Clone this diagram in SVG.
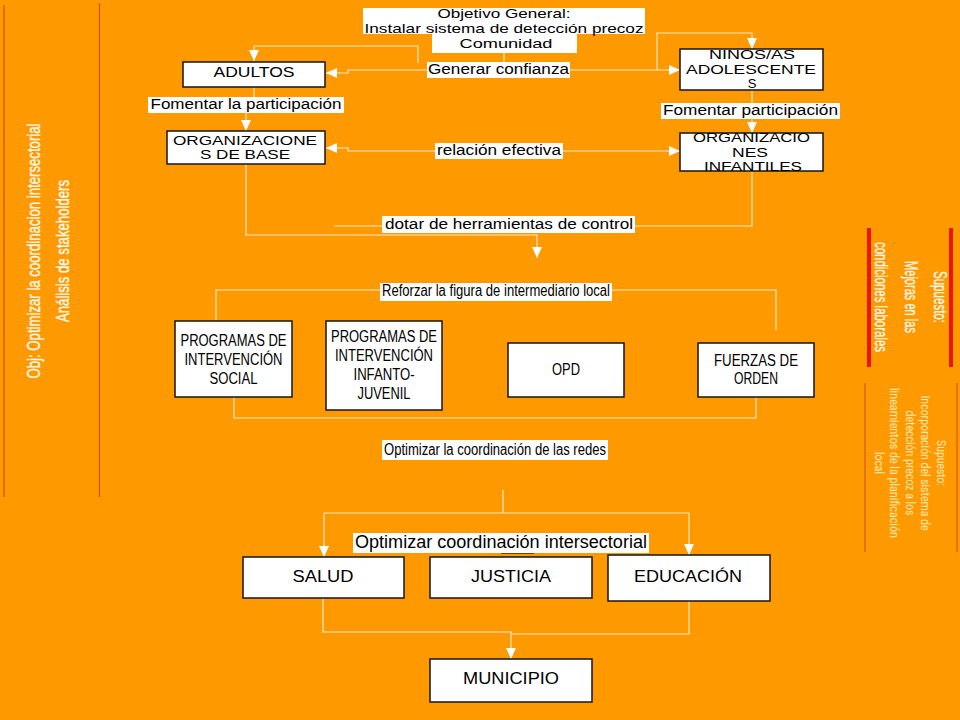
<svg xmlns="http://www.w3.org/2000/svg" width="960" height="720" viewBox="0 0 960 720">
<defs>
<marker id="arr" markerUnits="userSpaceOnUse" markerWidth="11" markerHeight="10" viewBox="0 0 11 10" refX="11" refY="5" orient="auto"><path d="M0,0 L11,5 L0,10 z" fill="#ffffff"/></marker>
<style>
.box{fill:#ffffff;stroke:#151515;stroke-width:1.5}
.lbl{fill:#ffffff}
.t{font-family:"Liberation Sans",Arial,sans-serif;fill:#000;text-anchor:middle;font-size:14px}
.m{font-size:13px}
.b{font-size:16px}
.n{font-size:16px}
.c{fill:none;stroke:#FFE8C8;stroke-width:1.2}
.ca{fill:none;stroke:#FFE8C8;stroke-width:1.2;marker-end:url(#arr)}
.side{font-family:"Liberation Sans",Arial,sans-serif;fill:#FFFAF0;stroke:#FFFAF0;stroke-width:0.35;text-anchor:middle;font-size:19px}
.side1{font-family:"Liberation Sans",Arial,sans-serif;fill:#FFFAF0;stroke:#FFFAF0;stroke-width:0.3;text-anchor:middle;font-size:18px}
.side2{font-family:Roboto,"Liberation Sans",Arial,sans-serif;fill:#FFEAB4;text-anchor:middle;font-size:13.5px}
</style>
</defs>
<rect x="0" y="0" width="960" height="720" fill="#FF9900"/>

<g id="side-left">
<line x1="4" y1="5" x2="4" y2="497" stroke="#D9481A" stroke-width="1.2"/>
<line x1="99.5" y1="3" x2="99.5" y2="497" stroke="#D9481A" stroke-width="1.2"/>
<text class="side" transform="translate(40,251) rotate(-90)" textLength="255" lengthAdjust="spacingAndGlyphs">Obj: Optimizar la coordinacion intersectorial</text>
<text class="side" transform="translate(69,251) rotate(-90)" textLength="142" lengthAdjust="spacingAndGlyphs">Análisis de stakeholders</text>
</g>

<g id="side-right-1">
<line x1="869" y1="228" x2="869" y2="367" stroke="#EE1500" stroke-width="4"/>
<line x1="951" y1="228" x2="951" y2="367" stroke="#EE1500" stroke-width="4"/>
<text class="side1" transform="translate(934,297) rotate(90)" textLength="52" lengthAdjust="spacingAndGlyphs">Supuesto:</text>
<text class="side1" transform="translate(905,297) rotate(90)" textLength="72" lengthAdjust="spacingAndGlyphs">Mejoras en las</text>
<text class="side1" transform="translate(875,297) rotate(90)" textLength="110" lengthAdjust="spacingAndGlyphs">condiciones laborales</text>
</g>

<g id="side-right-2">
<line x1="865" y1="383" x2="865" y2="552" stroke="#E0661E" stroke-width="1.5"/>
<line x1="957" y1="383" x2="957" y2="552" stroke="#E0661E" stroke-width="1.5"/>
<text class="side2" transform="translate(936.5,463) rotate(90)" textLength="46" lengthAdjust="spacingAndGlyphs">Supuesto:</text>
<text class="side2" transform="translate(921,463) rotate(90)" textLength="135" lengthAdjust="spacingAndGlyphs">Incorporación del sistema de</text>
<text class="side2" transform="translate(905.5,463) rotate(90)" textLength="105" lengthAdjust="spacingAndGlyphs">detección precoz a los</text>
<text class="side2" transform="translate(890,463) rotate(90)" textLength="150" lengthAdjust="spacingAndGlyphs">lineamientos de la planificación</text>
<text class="side2" transform="translate(874.5,463) rotate(90)" textLength="22" lengthAdjust="spacingAndGlyphs">local</text>
</g>

<g id="connectors">
<path class="c" d="M504,53 V63"/>
<path class="ca" d="M427,70 H348 V73 H326"/>
<path class="ca" d="M418,63 V46 H254 V61"/>
<path class="ca" d="M570,70 H680"/>
<path class="ca" d="M657,70 V33 H752 V49"/>
<path class="c" d="M254,87 V97"/>
<path class="ca" d="M246,113 V131"/>
<path class="c" d="M752,90 V103"/>
<path class="ca" d="M752,119 V133"/>
<path class="ca" d="M435,151 H348 V148 H326"/>
<path class="ca" d="M563,151 H680"/>
<path class="ca" d="M246,164 V235 H537 V258"/>
<path class="c" d="M752,171 V226 H334"/>
<path class="c" d="M216,320 V290 H776 V330"/>
<path class="c" d="M234,397 V418 H756 V397"/>
<path class="c" d="M503,490 V513"/>
<path class="c" d="M324,513 H689"/>
<path class="ca" d="M324,513 V557"/>
<path class="ca" d="M689,513 V555"/>
<path class="ca" d="M323,598 V632 H511 V659"/>
<path class="c" d="M689,601 V634 H511"/>
<path d="M501,553 H534" stroke="#3a2a10" stroke-width="1.5" fill="none"/>
</g>

<g id="objetivo">
<path class="lbl" d="M363,8 H645 V34 H577 V53 H432 V34 H363 Z"/>
<text class="t m" x="504" y="18" textLength="133" lengthAdjust="spacingAndGlyphs">Objetivo General:</text>
<text class="t m" x="504" y="33" textLength="279" lengthAdjust="spacingAndGlyphs">Instalar sistema de detección precoz</text>
<text class="t m" x="506" y="48" textLength="93" lengthAdjust="spacingAndGlyphs">Comunidad</text>
</g>

<g id="lbl-generar">
<rect class="lbl" x="427" y="62" width="143" height="16"/>
<text class="t" x="498.5" y="74" textLength="141" lengthAdjust="spacingAndGlyphs">Generar confianza</text>
</g>

<g id="adultos">
<rect class="box" x="183" y="62" width="142" height="25"/>
<text class="t" x="254" y="77" textLength="81" lengthAdjust="spacingAndGlyphs">ADULTOS</text>
</g>

<g id="lbl-fomentar-1">
<rect class="lbl" x="148" y="97" width="196" height="16"/>
<text class="t" x="246" y="109" textLength="191" lengthAdjust="spacingAndGlyphs">Fomentar la participación</text>
</g>

<g id="org-base">
<rect class="box" x="167" y="131" width="158" height="33"/>
<text class="t m" x="245" y="145" textLength="144" lengthAdjust="spacingAndGlyphs">ORGANIZACIONE</text>
<text class="t m" x="245" y="159" textLength="90" lengthAdjust="spacingAndGlyphs">S DE BASE</text>
</g>

<g id="ninos">
<rect class="box" x="680" y="49" width="143" height="41"/>
<text class="t m" x="752" y="59" textLength="86" lengthAdjust="spacingAndGlyphs">NINOS/AS</text>
<text class="t m" x="751" y="74" textLength="130" lengthAdjust="spacingAndGlyphs">ADOLESCENTE</text>
<text class="t m" x="752" y="88">S</text>
</g>

<g id="lbl-fomentar-2">
<rect class="lbl" x="661" y="103" width="179" height="16"/>
<text class="t" x="750.5" y="115" textLength="175" lengthAdjust="spacingAndGlyphs">Fomentar participación</text>
</g>

<g id="org-infantiles">
<rect class="box" x="680" y="133" width="143" height="38"/>
<text class="t m" x="751.5" y="142" textLength="117" lengthAdjust="spacingAndGlyphs">ORGANIZACIO</text>
<text class="t m" x="750" y="157" textLength="36" lengthAdjust="spacingAndGlyphs">NES</text>
<text class="t m" x="753" y="171" textLength="98" lengthAdjust="spacingAndGlyphs">INFANTILES</text>
</g>

<g id="lbl-relacion">
<rect class="lbl" x="435" y="143" width="128" height="16"/>
<text class="t" x="499" y="155" textLength="124" lengthAdjust="spacingAndGlyphs">relación efectiva</text>
</g>

<g id="lbl-dotar">
<rect class="lbl" x="382" y="216" width="253" height="17"/>
<text class="t" x="509" y="229" textLength="248" lengthAdjust="spacingAndGlyphs">dotar de herramientas de control</text>
</g>

<g id="lbl-reforzar">
<rect class="lbl" x="380" y="283" width="232" height="18"/>
<text class="t n" x="496" y="296" textLength="228" lengthAdjust="spacingAndGlyphs">Reforzar la figura de intermediario local</text>
</g>

<g id="prog-social">
<rect class="box" x="175" y="321" width="117" height="76"/>
<text class="t n" x="233.5" y="346" textLength="106" lengthAdjust="spacingAndGlyphs">PROGRAMAS DE</text>
<text class="t n" x="233.5" y="365" textLength="98" lengthAdjust="spacingAndGlyphs">INTERVENCIÓN</text>
<text class="t n" x="233.5" y="384" textLength="48" lengthAdjust="spacingAndGlyphs">SOCIAL</text>
</g>

<g id="prog-infanto">
<rect class="box" x="326" y="321" width="116" height="89"/>
<text class="t n" x="384" y="342" textLength="106" lengthAdjust="spacingAndGlyphs">PROGRAMAS DE</text>
<text class="t n" x="384" y="361" textLength="98" lengthAdjust="spacingAndGlyphs">INTERVENCIÓN</text>
<text class="t n" x="384" y="380" textLength="61" lengthAdjust="spacingAndGlyphs">INFANTO-</text>
<text class="t n" x="384" y="399" textLength="53" lengthAdjust="spacingAndGlyphs">JUVENIL</text>
</g>

<g id="opd">
<rect class="box" x="508" y="343" width="116" height="54"/>
<text class="t n" x="566" y="375" textLength="28" lengthAdjust="spacingAndGlyphs">OPD</text>
</g>

<g id="fuerzas">
<rect class="box" x="698" y="343" width="116" height="54"/>
<text class="t n" x="756" y="366" textLength="84" lengthAdjust="spacingAndGlyphs">FUERZAS DE</text>
<text class="t n" x="756" y="384" textLength="44" lengthAdjust="spacingAndGlyphs">ORDEN</text>
</g>

<g id="lbl-redes">
<rect class="lbl" x="382" y="440" width="226" height="20"/>
<text class="t n" x="495" y="455" textLength="222" lengthAdjust="spacingAndGlyphs">Optimizar la coordinación de las redes</text>
</g>

<g id="lbl-intersectorial">
<rect class="lbl" x="353" y="533" width="296" height="20"/>
<text class="t" style="font-size:17.5px" x="501" y="548" textLength="292" lengthAdjust="spacingAndGlyphs">Optimizar coordinación intersectorial</text>
</g>

<g id="salud">
<rect class="box" x="243" y="557" width="161" height="41"/>
<text class="t b" x="323" y="582" textLength="61" lengthAdjust="spacingAndGlyphs">SALUD</text>
</g>

<g id="justicia">
<rect class="box" x="430" y="557" width="162" height="41"/>
<text class="t b" x="511" y="582" textLength="80" lengthAdjust="spacingAndGlyphs">JUSTICIA</text>
</g>

<g id="educacion">
<rect class="box" x="608" y="555" width="162" height="46"/>
<text class="t b" x="688" y="582" textLength="108" lengthAdjust="spacingAndGlyphs">EDUCACIÓN</text>
</g>

<g id="municipio">
<rect class="box" x="430" y="659" width="162" height="43"/>
<text class="t b" x="511" y="684" textLength="96" lengthAdjust="spacingAndGlyphs">MUNICIPIO</text>
</g>
</svg>
